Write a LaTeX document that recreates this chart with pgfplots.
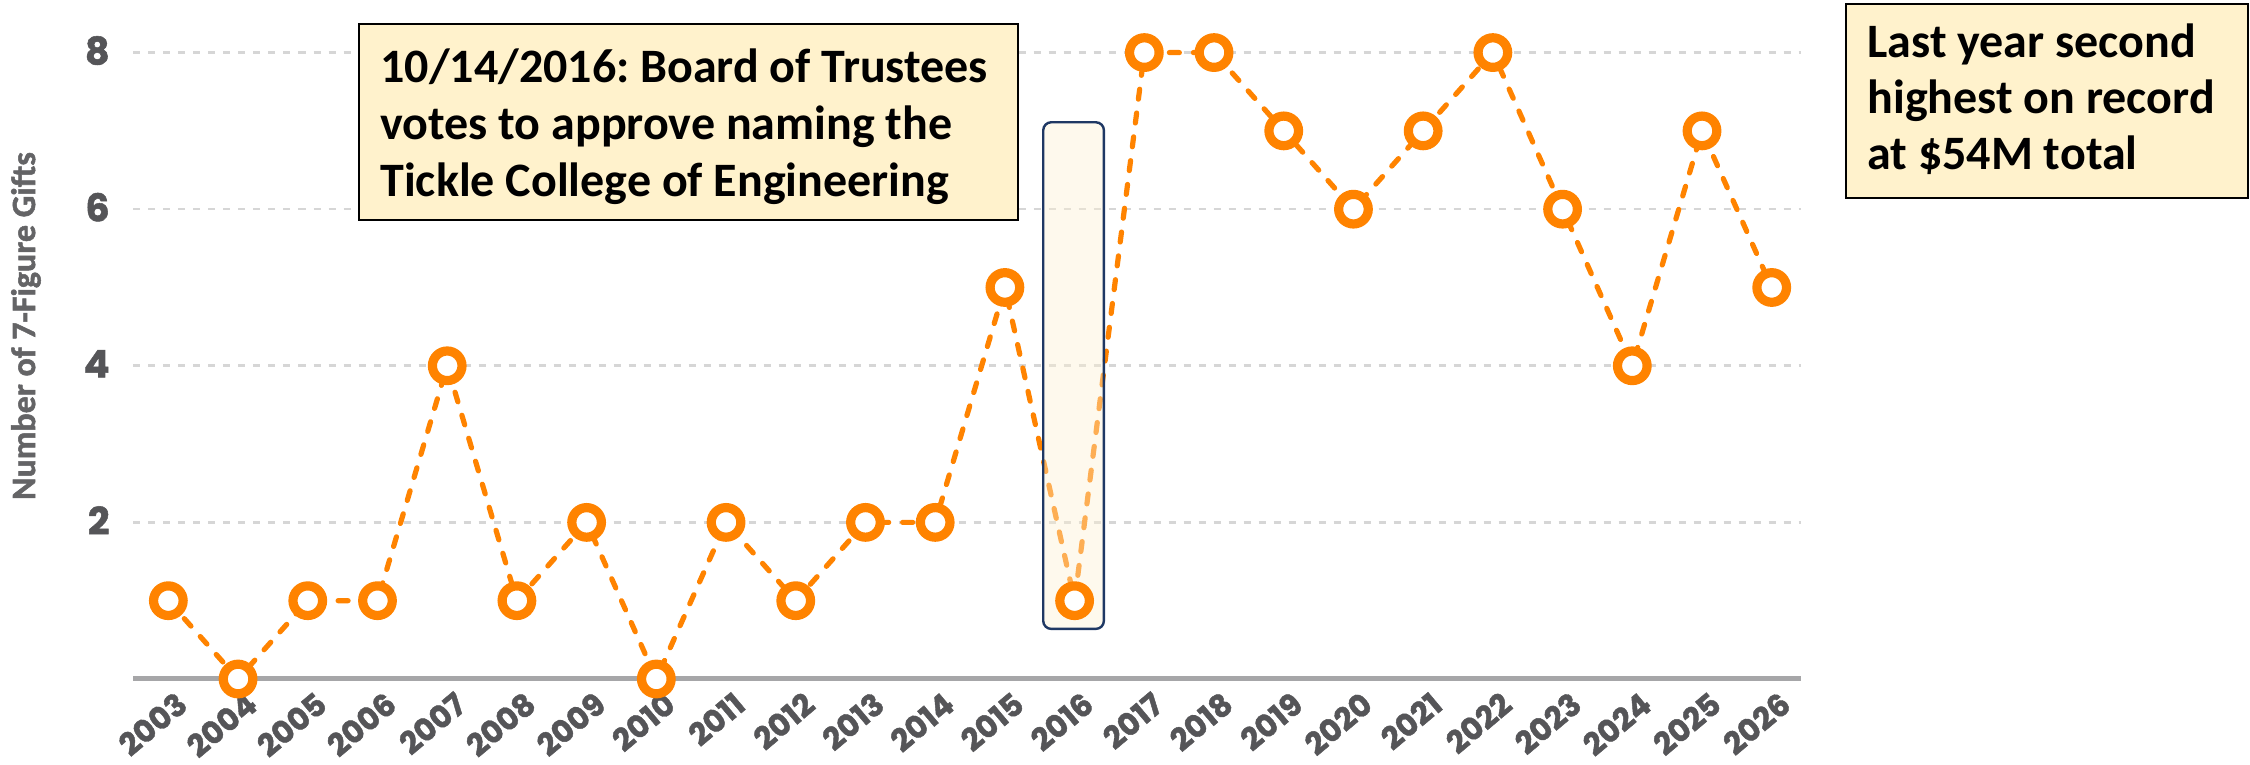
\documentclass[border=0pt]{standalone}
\usepackage{pgfplots}
\pgfplotsset{compat=1.18}
\usepackage{fontspec}
\setmainfont{Carlito}
\newfontfamily\poppins{Poppins}[BoldFeatures={FakeBold=1.4}]
\newfontfamily\carlitoheavy{Carlito}[BoldFeatures={FakeBold=1.5}]
\definecolor{gOrange}{RGB}{255,131,0}
\definecolor{tickgray}{RGB}{85,85,88}
\definecolor{labgray}{RGB}{100,100,102}
\definecolor{gridgray}{RGB}{214,214,214}
\definecolor{basegray}{RGB}{166,166,168}
\definecolor{navy}{RGB}{31,56,100}
\definecolor{cream}{RGB}{252,240,210}
\definecolor{noteFill}{RGB}{255,242,204}
\begin{document}
\frenchspacing
\begin{tikzpicture}
\path[use as bounding box] (-66.75pt,-43pt) rectangle (1058.25pt,339.5pt);
\begin{axis}[
  at={(0pt,0pt)}, anchor=south west,
  scale only axis, width=833.75pt, height=336.7pt,
  xmin=-0.5, xmax=23.42, ymin=0, ymax=8.6,
  clip=false,
  axis line style={draw=none},
  major tick length=0pt,
  xtick={0,1,2,3,4,5,6,7,8,9,10,11,12,13,14,15,16,17,18,19,20,21,22,23},
  xticklabels={2003,2004,2005,2006,2007,2008,2009,2010,2011,2012,2013,2014,2015,2016,2017,2018,2019,2020,2021,2022,2023,2024,2025,2026},
  ytick={2,4,6,8},
  ymajorgrids,
  major grid style={draw=gridgray, line width=1.3pt, dash pattern=on 3.5pt off 4pt},
  /pgf/number format/assume math mode=true,
  xticklabel style={font=\poppins\bfseries\fontsize{15.5pt}{15.5pt}\selectfont, text=tickgray, inner sep=0pt, anchor=east, xshift=7pt, yshift=-10pt, rotate=40},
  yticklabel style={font=\poppins\bfseries\fontsize{19pt}{19pt}\selectfont, text=tickgray, inner sep=0pt, anchor=east, xshift=-11.75pt, yshift=1pt},
]
\draw[basegray, line width=2.5pt] (axis cs:-0.5,0) -- (axis cs:23.42,0);
\addplot[gOrange, line width=2.6pt, dash pattern=on 5pt off 7pt, line cap=round,
  mark=*, mark size=7.4pt, mark options={solid, fill=white, draw=gOrange, line width=4.6pt}]
  coordinates {
  (0,1) (1,0) (2,1) (3,1) (4,4) (5,1) (6,2) (7,0) (8,2) (9,1) (10,2) (11,2)
  (12,5) (13,1) (14,8) (15,8) (16,7) (17,6) (18,7) (19,8) (20,6) (21,4) (22,7) (23,5)
  };
\draw[navy, line width=1.2pt, rounded corners=4pt, fill=cream, fill opacity=0.4] (axis cs:12.55,0.64) rectangle (axis cs:13.42,7.11);
\end{axis}
\begin{scope}[shift={(-66.75pt,339.5pt)}, x=0.5pt, y=-0.5pt]
\draw[fill=noteFill, line width=1pt] (359,24) rectangle (1018,220);
\node[anchor=base west, inner sep=0pt, font=\bfseries\fontsize{24pt}{24pt}\selectfont] at (380,83) {10/14/2016: Board of Trustees};
\node[anchor=base west, inner sep=0pt, font=\bfseries\fontsize{24pt}{24pt}\selectfont] at (380,140) {votes to approve naming the};
\node[anchor=base west, inner sep=0pt, font=\bfseries\fontsize{24pt}{24pt}\selectfont] at (380,197) {Tickle College of Engineering};
\draw[fill=noteFill, line width=1pt] (1846,4) rectangle (2248,198);
\node[anchor=base west, inner sep=0pt, font=\bfseries\fontsize{24pt}{24pt}\selectfont] at (1867,58) {Last year second};
\node[anchor=base west, inner sep=0pt, font=\bfseries\fontsize{24pt}{24pt}\selectfont] at (1867,114) {highest on record};
\node[anchor=base west, inner sep=0pt, font=\bfseries\fontsize{24pt}{24pt}\selectfont] at (1867,170) {at \$54M total};
\node[rotate=90, inner sep=0pt, font=\carlitoheavy\bfseries\fontsize{17pt}{17pt}\selectfont, text=labgray] at (26,326) {Number of 7-Figure Gifts};
\end{scope}
\end{tikzpicture}
\end{document}
